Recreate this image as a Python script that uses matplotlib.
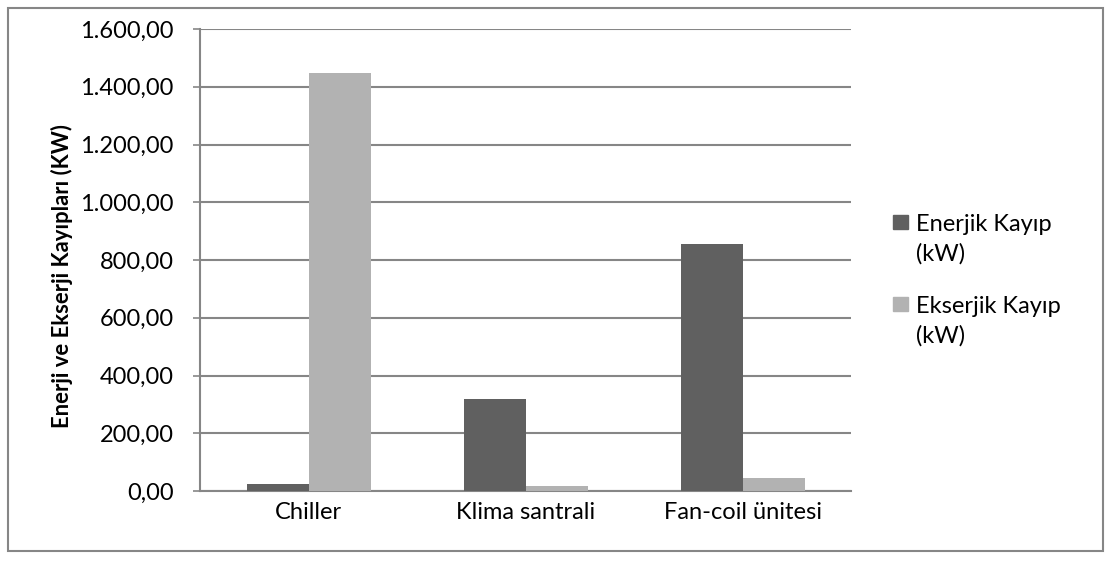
import matplotlib.pyplot as plt
import numpy as np
from matplotlib.patches import Rectangle
from matplotlib.ticker import FuncFormatter

categories = ["Chiller", "Klima santrali", "Fan-coil ünitesi"]
enerjik_kayip = [24, 319, 857]
ekserjik_kayip = [1447, 16, 45]
series_labels = ["Enerjik Kayıp\n(kW)", "Ekserjik Kayıp\n(kW)"]
series_colors = ["#606060", "#b2b2b2"]
y_ticks = [0, 200, 400, 600, 800, 1000, 1200, 1400, 1600]

plt.rcParams["font.family"] = ["Lato", "DejaVu Sans"]

W, H = 1112, 561
fig = plt.figure(figsize=(W / 100, H / 100), dpi=100)
ax = fig.add_axes([200 / W, 1 - 491 / H, 651 / W, 462 / H])

x = np.arange(len(categories))
bar_w = 1 / 3.5
grid_col = "#868686"
fs = 17

for i, (vals, col) in enumerate(zip([enerjik_kayip, ekserjik_kayip], series_colors)):
    ax.bar(x + (i - 0.5) * bar_w, vals, bar_w, color=col, zorder=3)

ax.set_xlim(-0.5, len(categories) - 0.5)
ax.set_ylim(0, 1600)
ax.set_yticks(y_ticks)
ax.yaxis.set_major_formatter(
    FuncFormatter(lambda v, _: f"{v:,.2f}".replace(",", "X").replace(".", ",").replace("X", "."))
)
ax.set_xticks(x)
ax.set_xticklabels(categories)
ax.tick_params(axis="x", length=0, pad=8, labelsize=fs)
ax.tick_params(axis="y", length=5, width=1.2, color=grid_col, pad=14, labelsize=fs)
ax.yaxis.grid(True, color=grid_col, linewidth=1.5, zorder=0)
ax.set_axisbelow(True)

for side in ("top", "right"):
    ax.spines[side].set_visible(False)
for side in ("left", "bottom"):
    ax.spines[side].set_color(grid_col)
    ax.spines[side].set_linewidth(1.5)

ax.set_ylabel("Enerji ve Ekserji Kayıpları (KW)", fontsize=15.8, fontweight="bold")
ax.yaxis.set_label_coords(-0.195, 0.465)

# legend: square aligned with the first line of each two-line label
for label, col, top in zip(series_labels, series_colors, [214, 296]):
    fig.patches.append(Rectangle((893 / W, 1 - (top + 15) / H), 15 / W, 14 / H,
                                 transform=fig.transFigure, color=col))
    fig.text(916 / W, 1 - top / H, label, fontsize=fs, va="top", ha="left",
             linespacing=1.45)

# outer chart border
fig.patches.append(Rectangle((8 / W, 1 - 551 / H), 1095 / W, 543 / H,
                             transform=fig.transFigure, fill=False,
                             edgecolor=grid_col, linewidth=1.5))

fig.savefig("out.png", dpi=100)
